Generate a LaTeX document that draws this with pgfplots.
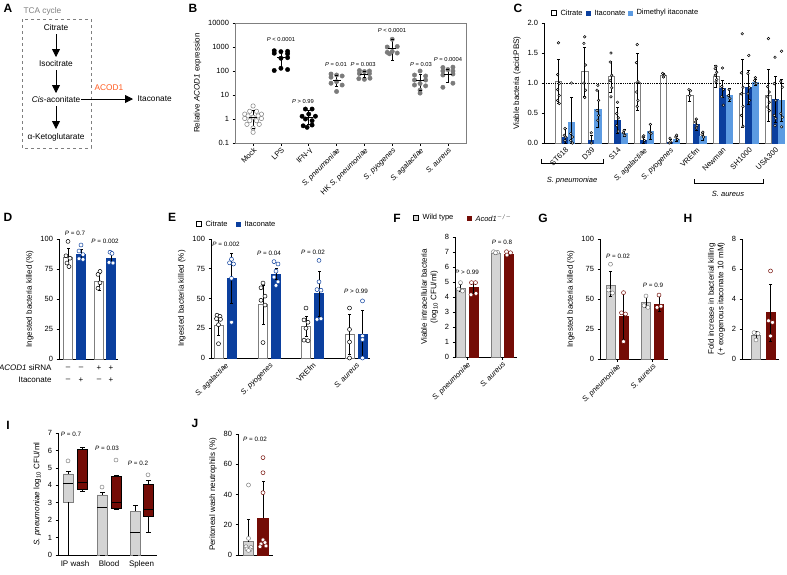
\documentclass[border=0pt]{standalone}
\usepackage{fontspec}
\setmainfont{Liberation Sans}
\usepackage{pgfplots}
\pgfplotsset{compat=1.18}
\usetikzlibrary{arrows.meta}

\definecolor{itab}{HTML}{0B3F9E}
\definecolor{dmib}{HTML}{5C9BE2}
\definecolor{kored}{HTML}{740C06}
\definecolor{wtgray}{HTML}{D4D4D4}
\definecolor{ptgray}{HTML}{7B7B7B}
\definecolor{edgegray}{HTML}{7F7F7F}
\definecolor{acodorange}{HTML}{FF5A1F}

% one bar: x, value, fill, edge colour, width
\newcommand{\onebar}[5]{\addplot[ybar, bar shift=0pt, bar width=#5, fill=#3, draw=#4, line width=0.6pt] coordinates {(#1,#2)};}
% error bar from #2 to #3 at x = #1, capped at both ends
\newcommand{\ebar}[3]{\addplot[black, line width=0.6pt, mark=-, mark size=1.5pt] coordinates {(#1,#2) (#1,#3)};}
% error bar above the mean only
\newcommand{\uebar}[3]{\addplot[black, line width=0.6pt, mark=-, mark size=1.5pt, mark indices={2}] coordinates {(#1,#2) (#1,#3)};}
% replicate points: size, edge colour, coordinates
\newcommand{\reps}[3]{\addplot[only marks, mark=*, mark size=#1, mark options={fill=white, draw=#2, line width=0.5pt}] coordinates {#3};}
% mean line for scatter panels
\newcommand{\mline}[2]{\addplot[only marks, mark=-, mark size=4pt, mark options={line width=0.9pt}] coordinates {(#1,#2)};}
% box and whiskers: left, centre, right, low whisker, Q1, median, Q3, high whisker, box style
\newcommand{\bx}[9]{%
  \addplot[#9, line width=0.6pt] coordinates {(#1,#5) (#3,#5) (#3,#7) (#1,#7) (#1,#5)};
  \addplot[black, line width=0.6pt] coordinates {(#1,#6) (#3,#6)};
  \addplot[black, line width=0.6pt, mark=-, mark size=2.5pt, mark indices={2}] coordinates {(#2,#7) (#2,#8)};
  \addplot[black, line width=0.6pt, mark=-, mark size=2.5pt, mark indices={2}] coordinates {(#2,#5) (#2,#4)};}
\newcommand{\Pv}[1]{\textit{P} #1}

\pgfplotsset{
  panel/.style={
    scale only axis, clip=false, enlargelimits=false, anchor=south west,
    axis x line*=bottom, axis y line*=left,
    axis line style={-, line width=0.6pt},
    tick align=outside, major tick length=2.5pt,
    tick style={black, line width=0.6pt},
    ymin=0,
    tick label style={font=\fontsize{7.5}{9}\selectfont},
    ylabel style={font=\fontsize{8}{9.5}\selectfont},
    /pgf/number format/assume math mode=true,
  },
  rotlabels/.style={xticklabel style={rotate=45, anchor=north east, inner sep=1pt}},
}

\begin{document}
\begin{tikzpicture}[font=\fontsize{8}{9.5}\selectfont]
\path[use as bounding box] (0,0) rectangle (787pt,-574pt);

% panel letters
\foreach \l/\x/\y in {A/8/8, B/193/8, C/518/8, D/8/217, E/172/217, F/397/218, G/543/218, H/688/218, I/8/425, J/195/423}
  \node[font=\fontsize{12}{12}\selectfont\bfseries] at (\x pt,-\y pt) {\l};

% ---------------- A: pathway ----------------
\begin{scope}[font=\fontsize{8.3}{10}\selectfont]
\draw[edgegray, dashed, line width=0.6pt] (22pt,-19pt) rectangle (91pt,-148pt);
\node[edgegray, anchor=west] at (20pt,-11pt) {TCA cycle};
\node at (56pt,-28pt) {Citrate};
\node at (56pt,-64pt) {Isocitrate};
\node at (56pt,-100pt) {\textit{Cis}-aconitate};
\node at (56pt,-137pt) {α-Ketoglutarate};
\draw[line width=0.8pt, -{Triangle[length=8pt,width=8pt]}] (56pt,-34pt) -- (56pt,-57pt);
\draw[line width=0.8pt, -{Triangle[length=8pt,width=8pt]}] (56pt,-70pt) -- (56pt,-93pt);
\draw[line width=0.8pt, -{Triangle[length=8pt,width=8pt]}] (56pt,-106pt) -- (56pt,-129pt);
\draw[line width=0.8pt, -{Triangle[length=8pt,width=8pt]}] (81pt,-99pt) -- (133pt,-99pt);
\node[acodorange] at (109pt,-88pt) {ACOD1};
\node[anchor=west] at (134pt,-99pt) {Itaconate};
\end{scope}

% ---------------- B: ACOD1 expression ----------------
\begin{axis}[scale only axis, clip=false, anchor=south west, at={(235pt,-143pt)},
  width=231pt, height=120pt, ymode=log, ymin=0.1, ymax=10000,
  xmin=-0.65, xmax=7.65, xtick={0,...,7},
  xticklabels={Mock,LPS,IFN-γ,\textit{S. pneumoniae},HK \textit{S. pneumoniae},\textit{S. pyogenes},\textit{S. agalactiae},\textit{S. aureus}},
  rotlabels,
  ytick={0.1,1,10,100,1000,10000}, yticklabels={0.1,1,10,100,1000,10000},
  yminorticks=false, tick pos=left, tick align=outside, major tick length=2.5pt,
  tick style={black, line width=0.6pt}, axis line style={line width=0.6pt, edgegray},
  tick label style={font=\fontsize{7.5}{9}\selectfont},
  ylabel={Relative \textit{ACOD1} expression}, ylabel style={font=\fontsize{8}{9.5}\selectfont}]
\reps{2.2pt}{edgegray}{(0,3.5) (-0.12,2.1) (0.12,2.1) (-0.3,1.6) (0.3,1.6) (-0.18,1.35) (0.18,1.35) (0,1.2) (-0.3,1.05) (0.3,1.05) (-0.12,0.85) (0.12,0.85) (-0.22,0.6) (0.22,0.6) (0,0.42) (0,0.28)}
\addplot[only marks, mark=*, mark size=2.2pt, black] coordinates {(0.76,700) (1,640) (1.24,660) (0.76,550) (1.24,520) (1,340) (1.24,360) (1,130) (0.76,105) (1.24,115)};
\addplot[only marks, mark=*, mark size=2.2pt, black] coordinates {(1.88,2.6) (2.12,2.6) (2,1.6) (1.76,1.3) (2.24,1.3) (1.88,1.0) (2.12,0.85) (1.8,0.52) (2.12,0.56) (1.94,0.45)};
\addplot[only marks, mark=*, mark size=2.2pt, ptgray] coordinates {(2.8,75) (3,68) (2.8,55) (3.2,62) (3,36) (2.8,31) (3.2,26) (3,14)};
\addplot[only marks, mark=*, mark size=2.2pt, ptgray] coordinates {(3.82,105) (4.18,100) (4,95) (3.82,78) (4.18,78) (3.8,48) (4.2,50) (4,45)};
\addplot[only marks, mark=*, mark size=2.2pt, ptgray] coordinates {(5,2100) (4.82,1000) (5.18,1050) (4.82,600) (5,650) (5.18,560) (4.9,520)};
\addplot[only marks, mark=*, mark size=2.2pt, ptgray] coordinates {(6,100) (5.8,68) (6.2,62) (5.8,42) (6.2,42) (6,30) (5.8,26) (6.2,24) (6,16) (6,12)};
\addplot[only marks, mark=*, mark size=2.2pt, ptgray] coordinates {(6.82,140) (7.18,145) (7,115) (6.82,100) (7.18,100) (7.18,75) (6.82,68) (7.18,31) (6.82,21)};
\ebar{0}{0.42}{2.3}\mline{0}{1.2}
\ebar{1}{117}{750}\mline{1}{370}
\ebar{2}{0.6}{2.2}\mline{2}{1.2}
\ebar{3}{22}{65}\mline{3}{42}
\ebar{4}{55}{95}\mline{4}{75}
\ebar{5}{280}{2000}\mline{5}{900}
\ebar{6}{15}{70}\mline{6}{40}
\ebar{7}{35}{115}\mline{7}{75}
\end{axis}
\begin{scope}[font=\fontsize{5.8}{7}\selectfont]
\node at (281pt,-39pt) {\Pv{< 0.0001}};
\node at (303pt,-101pt) {\Pv{> 0.99}};
\node at (336pt,-64pt) {\Pv{= 0.01}};
\node at (363pt,-64pt) {\Pv{= 0.003}};
\node at (392pt,-30pt) {\Pv{< 0.0001}};
\node at (421pt,-64pt) {\Pv{= 0.03}};
\node at (448pt,-59pt) {\Pv{= 0.0004}};
\end{scope}

% ---------------- C: viable bacteria ----------------
\begin{axis}[panel, at={(544pt,-143pt)}, width=241pt, height=120pt,
  xmin=-0.8, xmax=8.38, ymax=2, ytick={0,0.5,1,1.5,2}, yticklabels={0.0,0.5,1.0,1.5,2.0},
  xtick={0,...,8}, xticklabels={ST618,D39,S14,\textit{S. agalactiae},\textit{S. pyogenes},VREfm,Newman,SH1000,USA300},
  rotlabels, xtick style={draw=none},
  ylabel={Viable bacteria (acid:PBS)}]
% citrate
\onebar{-0.25}{1.03}{white}{edgegray}{6.3pt}
\onebar{0.75}{1.19}{white}{edgegray}{6.3pt}
\onebar{1.75}{1.11}{white}{edgegray}{6.3pt}
\onebar{2.75}{1.02}{white}{edgegray}{6.3pt}
\onebar{3.75}{1.13}{white}{edgegray}{6.3pt}
\onebar{4.75}{0.80}{white}{edgegray}{6.3pt}
\onebar{5.75}{1.11}{white}{edgegray}{6.3pt}
\onebar{6.75}{0.83}{white}{edgegray}{6.3pt}
\onebar{7.75}{0.80}{white}{edgegray}{6.3pt}
% itaconate
\onebar{0}{0.10}{itab}{itab}{6.3pt}
\onebar{1}{0.05}{itab}{itab}{6.3pt}
\onebar{2}{0.38}{itab}{itab}{6.3pt}
\onebar{3}{0.04}{itab}{itab}{6.3pt}
\onebar{4}{0.02}{itab}{itab}{6.3pt}
\onebar{5}{0.31}{itab}{itab}{6.3pt}
\onebar{6}{0.91}{itab}{itab}{6.3pt}
\onebar{7}{0.93}{itab}{itab}{6.3pt}
\onebar{8}{0.73}{itab}{itab}{6.3pt}
% dimethyl itaconate
\onebar{0.25}{0.34}{dmib}{dmib}{6.3pt}
\onebar{1.25}{0.57}{dmib}{dmib}{6.3pt}
\onebar{2.25}{0.17}{dmib}{dmib}{6.3pt}
\onebar{3.25}{0.19}{dmib}{dmib}{6.3pt}
\onebar{4.25}{0.07}{dmib}{dmib}{6.3pt}
\onebar{5.25}{0.11}{dmib}{dmib}{6.3pt}
\onebar{6.25}{0.80}{dmib}{dmib}{6.3pt}
\onebar{7.25}{1.02}{dmib}{dmib}{6.3pt}
\onebar{8.25}{0.71}{dmib}{dmib}{6.3pt}
% reference level
\addplot[black, densely dotted, line width=0.8pt] coordinates {(-0.8,1) (8.38,1)};
% error bars
\ebar{-0.25}{0.67}{1.39}\ebar{0}{0}{0.24}\ebar{0.25}{0}{0.76}
\ebar{0.75}{0.78}{1.6}\ebar{1}{0}{0.13}\ebar{1.25}{0.26}{0.88}
\ebar{1.75}{0.85}{1.37}\ebar{2}{0.16}{0.6}\ebar{2.25}{0.11}{0.23}
\ebar{2.75}{0.55}{1.49}\ebar{3}{0}{0.1}\ebar{3.25}{0.07}{0.31}
\ebar{3.75}{1.1}{1.16}\ebar{4}{0}{0.06}\ebar{4.25}{0.03}{0.11}
\ebar{4.75}{0.7}{0.9}\ebar{5}{0.22}{0.4}\ebar{5.25}{0.05}{0.18}
\ebar{5.75}{0.93}{1.29}\ebar{6}{0.77}{1.05}\ebar{6.25}{0.69}{0.91}
\ebar{6.75}{0.26}{1.4}\ebar{7}{0.65}{1.21}\ebar{7.25}{0.97}{1.07}
\ebar{7.75}{0.37}{1.23}\ebar{8}{0.35}{1.11}\ebar{8.25}{0.36}{1.06}
% replicates
\reps{1.3pt}{black}{(-0.25,1.67) (-0.28,1.14) (-0.22,0.99) (-0.28,0.89) (-0.22,0.79) (-0.28,0.71) (-0.22,0.66)
  (0.75,1.77) (0.72,1.66) (0.78,1.3) (0.72,1.0) (0.78,0.88) (0.75,0.76)
  (1.75,1.5) (1.72,1.35) (1.78,1.13) (1.72,1.04) (1.78,0.92) (1.75,0.77)
  (2.75,1.64) (2.72,1.34) (2.78,1.02) (2.72,0.85) (2.78,0.71) (2.75,0.61)
  (3.72,1.16) (3.78,1.13) (3.75,1.1)
  (4.72,0.89) (4.78,0.87) (4.75,0.79)
  (5.75,1.28) (5.72,1.24) (5.78,1.18) (5.72,1.13) (5.78,1.06) (5.75,1.02)
  (6.75,1.82) (6.72,1.17) (6.78,0.93) (6.72,0.82) (6.78,0.61) (6.72,0.46) (6.78,0.28)
  (7.75,1.74) (7.72,0.94) (7.78,0.85) (7.72,0.77) (7.78,0.68) (7.72,0.6) (7.78,0.54)}
\reps{1.3pt}{black}{(0,0.24) (-0.03,0.13) (0.03,0.1) (0,0.04)
  (1,0.17) (1,0.0)
  (2,0.68) (1.97,0.49) (2.03,0.42) (1.97,0.29) (2.03,0.2)
  (3,0.12) (2.97,0.1) (3.03,0.04)
  (4,0.08) (4.03,0.02) (3.97,0.0)
  (5,0.4) (4.97,0.35) (5.03,0.29) (5,0.25)
  (6,1.25) (5.97,0.94) (6.03,0.89) (5.97,0.77) (6.03,0.63)
  (7,1.46) (6.97,1.16) (7.03,0.92) (6.97,0.82) (7.03,0.71)
  (8,1.43) (7.97,0.99) (8.03,0.71) (7.97,0.46) (8.03,0.41) (8,0.29)}
\reps{1.3pt}{black}{(0.25,1.0) (0.22,0.16) (0.28,0.1) (0.22,0.04) (0.28,0.0)
  (1.25,0.96) (1.22,0.88) (1.28,0.71) (1.22,0.54) (1.28,0.46) (1.25,0.38)
  (2.25,0.21) (2.22,0.17) (2.28,0.13)
  (3.25,0.31) (3.22,0.18) (3.28,0.16)
  (4.25,0.13) (4.22,0.1) (4.28,0.06)
  (5.25,0.18) (5.22,0.14) (5.28,0.1)
  (6.25,0.89) (6.22,0.79) (6.28,0.74)
  (7.25,1.09) (7.22,1.04) (7.28,0.99)
  (8.25,1.53) (8.22,1.03) (8.28,0.93) (8.22,0.49) (8.28,0.43) (8.25,0.27)}
\end{axis}
% C legend and species brackets
\begin{scope}[font=\fontsize{7.5}{9}\selectfont]
\draw[black, line width=0.5pt, fill=white] (551.5pt,-10.5pt) rectangle (556.5pt,-15.5pt);
\node[anchor=west] at (557pt,-13pt) {Citrate};
\fill[itab] (585.5pt,-10.5pt) rectangle (590.5pt,-15.5pt);
\node[anchor=west] at (591pt,-13pt) {Itaconate};
\fill[dmib] (627.5pt,-10.5pt) rectangle (632.5pt,-15.5pt);
\node[anchor=west] at (633pt,-13pt) {Dimethyl itaconate};
\draw[line width=0.6pt] (541pt,-159pt) -- (541pt,-163pt) -- (603pt,-163pt) -- (603pt,-159pt);
\node at (572pt,-181pt) {\textit{S. pneumoniae}};
\draw[line width=0.6pt] (694pt,-179pt) -- (694pt,-183pt) -- (763pt,-183pt) -- (763pt,-179pt);
\node at (728pt,-194pt) {\textit{S. aureus}};
\end{scope}

% ---------------- D: siRNA knockdown ----------------
\begin{axis}[panel, at={(59pt,-359pt)}, width=59pt, height=120pt,
  xmin=0, xmax=59, ymax=100, ytick={0,25,50,75,100}, xtick=\empty,
  ylabel={Ingested bacteria killed (\%)}]
\onebar{9}{84.5}{white}{edgegray}{8.5pt}
\onebar{22}{87}{itab}{itab}{8.5pt}
\onebar{40}{64.5}{white}{edgegray}{8.5pt}
\onebar{52}{84}{itab}{itab}{8.5pt}
\ebar{9}{77}{92}\ebar{22}{83}{91.5}\ebar{40}{57}{71.5}\ebar{52}{79.5}{88.5}
\reps{2pt}{black}{(9,98) (7,86) (11,84) (8,80) (10,77)}
\reps{2pt}{itab}{(22,95) (20,90) (24,87) (20,83.5) (24,83)}
\reps{2pt}{black}{(41,73) (39,70.5) (41,63.5) (39,59)}
\reps{2pt}{itab}{(51,89) (53,88) (50,80.5) (54,80)}
\end{axis}
\begin{scope}[font=\fontsize{8}{9.5}\selectfont]
\node[anchor=east] at (55pt,-368pt) {\textit{ACOD1} siRNA};
\node[anchor=east] at (55pt,-380pt) {Itaconate};
\node at (68pt,-368pt) {–}; \node at (81pt,-368pt) {–}; \node at (99pt,-368pt) {+}; \node at (111pt,-368pt) {+};
\node at (68pt,-380pt) {–}; \node at (81pt,-380pt) {+}; \node at (99pt,-380pt) {–}; \node at (111pt,-380pt) {+};
\end{scope}
\begin{scope}[font=\fontsize{6.3}{7.5}\selectfont]
\node at (75pt,-233pt) {\Pv{= 0.7}};
\node at (105pt,-241pt) {\Pv{= 0.002}};
\end{scope}

% ---------------- E: bacterial species ----------------
\begin{axis}[panel, at={(211pt,-358pt)}, width=159pt, height=119pt,
  xmin=0, xmax=159, ymax=100, ytick={0,25,50,75,100},
  xtick={14,58.5,101.5,145}, xticklabels={\textit{S. agalactiae},\textit{S. pyogenes},VREfm,\textit{S. aureus}},
  rotlabels, xtick style={draw=none},
  ylabel={Ingested bacteria killed (\%)}]
\onebar{7.5}{27.7}{white}{edgegray}{9pt}
\onebar{20.5}{67}{itab}{itab}{9pt}
\onebar{52}{45}{white}{edgegray}{9pt}
\onebar{65}{70.6}{itab}{itab}{9pt}
\onebar{95}{26.5}{white}{edgegray}{9pt}
\onebar{108}{54}{itab}{itab}{9pt}
\onebar{138.5}{20}{white}{edgegray}{9pt}
\onebar{151.5}{20}{itab}{itab}{9pt}
\ebar{7.5}{19}{36.5}\ebar{20.5}{46}{88}
\ebar{52}{28}{61}\ebar{65}{66}{75.5}
\ebar{95}{18}{35}\ebar{108}{35}{73}
\ebar{138.5}{3}{37}\ebar{151.5}{0}{40}
\reps{2pt}{black}{(6,36) (9,35) (5.5,33) (9.5,32.5) (7.5,28) (7.5,12)
  (52,63) (50,59) (54,52) (50,48.5) (54,44.5) (52,13)
  (95,42) (93,32) (97,30) (95,25) (93,15) (97,14.5)
  (138.5,42) (138.5,24) (138.5,13.5) (138.5,0)}
\reps{2pt}{itab}{(20.5,83) (18.5,80) (22.5,79) (20.5,67) (20.5,30)
  (63,81) (67,79) (65,73) (63,68) (67,64) (65,61)
  (108,82) (108,64) (106,57.5) (110,57) (106,32.5) (110,33)
  (151.5,48) (151.5,18.5) (151.5,15.5) (151.5,0)}
\end{axis}
\begin{scope}[font=\fontsize{7.5}{9}\selectfont]
\draw[black, line width=0.5pt, fill=white] (196.5pt,-221.5pt) rectangle (201.5pt,-226.5pt);
\node[anchor=west] at (202pt,-224pt) {Citrate};
\fill[itab] (235.5pt,-221.5pt) rectangle (240.5pt,-226.5pt);
\node[anchor=west] at (241pt,-224pt) {Itaconate};
\end{scope}
\begin{scope}[font=\fontsize{6.3}{7.5}\selectfont]
\node at (226pt,-244pt) {\Pv{= 0.002}};
\node at (269pt,-253pt) {\Pv{= 0.04}};
\node at (313pt,-252pt) {\Pv{= 0.02}};
\node at (356pt,-291pt) {\Pv{> 0.99}};
\end{scope}

% ---------------- F: intracellular bacteria ----------------
\begin{axis}[panel, at={(455pt,-357pt)}, width=62pt, height=120pt,
  xmin=0, xmax=62, ymax=8, ytick={0,...,8},
  xtick={12,47}, xticklabels={\textit{S. pneumoniae},\textit{S. aureus}}, rotlabels,
  ylabel={Viable intracellular bacteria\\(log\textsubscript{10} CFU/ml)}, ylabel style={align=center}]
\onebar{5.5}{4.58}{wtgray}{edgegray}{9pt}
\onebar{18.5}{4.65}{kored}{kored}{9pt}
\onebar{40.5}{6.91}{wtgray}{edgegray}{9pt}
\onebar{53.5}{6.88}{kored}{kored}{9pt}
\ebar{5.5}{4.4}{4.84}\ebar{18.5}{4.25}{4.95}\ebar{40.5}{6.88}{6.97}\ebar{53.5}{6.8}{6.98}
\reps{2pt}{edgegray}{(5.5,4.96) (3.5,4.53) (7.5,4.4) (38.5,7.02) (42.5,6.98) (40.5,6.95)}
\reps{2pt}{kored}{(16.5,4.96) (20.5,4.96) (16,4.15) (21,4.24) (51.5,7.02) (55.5,6.95) (52,6.8)}
\end{axis}
\begin{scope}[font=\fontsize{7.5}{9}\selectfont]
\draw[black, line width=0.5pt, fill=wtgray] (413.5pt,-215.5pt) rectangle (418.5pt,-220.5pt);
\node[anchor=west] at (419pt,-218pt) {Wild type};
\fill[kored] (466.5pt,-215.5pt) rectangle (471.5pt,-220.5pt);
\node[anchor=west] at (472pt,-218pt) {\textit{Acod1}\textsuperscript{$-/-$}};
\end{scope}
\begin{scope}[font=\fontsize{6.3}{7.5}\selectfont]
\node at (467pt,-272pt) {\Pv{> 0.99}};
\node at (502pt,-242pt) {\Pv{= 0.8}};
\end{scope}

% ---------------- G: killing in knockout cells ----------------
\begin{axis}[panel, at={(600pt,-359pt)}, width=68pt, height=120pt,
  xmin=0, xmax=68, ymax=100, ytick={0,25,50,75,100},
  xtick={17,52.5}, xticklabels={\textit{S. pneumoniae},\textit{S. aureus}}, rotlabels,
  ylabel={Ingested bacteria killed (\%)}]
\onebar{10.5}{61.5}{wtgray}{edgegray}{9pt}
\onebar{23.5}{36}{kored}{kored}{9pt}
\onebar{46}{47.5}{wtgray}{edgegray}{9pt}
\onebar{59}{46}{kored}{kored}{9pt}
\ebar{10.5}{52}{73}\ebar{23.5}{16.5}{55}\ebar{46}{43}{52.5}\ebar{59}{40}{53}
\reps{2pt}{edgegray}{(10.5,79) (8.5,57.5) (12.5,55) (46,52.5) (44,44.5) (48,43)}
\reps{2pt}{kored}{(23.5,55.3) (21.5,38.5) (25.5,37.5) (23.5,14.5) (59,53.3) (57,43) (61,44)}
\end{axis}
\begin{scope}[font=\fontsize{6.3}{7.5}\selectfont]
\node at (618pt,-256pt) {\Pv{= 0.02}};
\node at (653pt,-285pt) {\Pv{= 0.9}};
\end{scope}

% ---------------- H: fold increase ----------------
\begin{axis}[panel, at={(742pt,-359pt)}, width=37pt, height=120pt,
  xmin=0, xmax=37, ymax=8, ytick={0,2,4,6,8}, xtick=\empty,
  ylabel={Fold increase in bacterial killing\\(+ exogenous itaconate 10 mM)}, ylabel style={align=center}]
\onebar{14}{1.6}{wtgray}{edgegray}{9pt}
\onebar{28.5}{3.1}{kored}{kored}{9pt}
\ebar{14}{1.4}{1.85}\ebar{28.5}{1.2}{5.0}
\reps{2pt}{edgegray}{(12,1.76) (16,1.7) (14,1.27)}
\reps{2pt}{kored}{(28.5,5.87) (26.5,2.55) (30.5,2.44) (28.5,1.53)}
\end{axis}

% ---------------- I: in vivo bacterial load ----------------
\begin{axis}[panel, at={(58pt,-555pt)}, width=99pt, height=122pt,
  xmin=0, xmax=99, ymax=7, ytick={0,...,7},
  xtick={17,51,83.5}, xticklabels={IP wash,Blood,Spleen}, xtick style={draw=none},
  xticklabel style={font=\fontsize{8}{9.5}\selectfont},
  ylabel={\textit{S. pneumoniae} log\textsubscript{10} CFU/ml}]
\bx{5}{10}{15}{0}{3.05}{4.1}{4.65}{4.8}{fill=wtgray, draw=edgegray}
\bx{19}{24}{29}{3.65}{3.75}{4.15}{6.05}{6.2}{fill=kored, draw=black}
\bx{39}{44}{49}{0}{0}{2.75}{3.45}{3.6}{fill=wtgray, draw=edgegray}
\bx{53}{58}{63}{2.6}{2.7}{3.0}{4.5}{4.55}{fill=kored, draw=black}
\bx{72}{77}{82}{0}{0}{1.3}{2.5}{2.85}{fill=wtgray, draw=edgegray}
\bx{85}{90}{95}{1.3}{2.2}{2.65}{4.05}{4.3}{fill=kored, draw=black}
\addplot[only marks, mark=o, mark size=2pt, edgegray, line width=0.5pt] coordinates {(10,5.4) (44,3.9) (58,5.45) (90,4.6)};
\end{axis}
\begin{scope}[font=\fontsize{6.3}{7.5}\selectfont]
\node at (71pt,-434pt) {\Pv{= 0.7}};
\node at (107pt,-448pt) {\Pv{= 0.03}};
\node at (138pt,-463pt) {\Pv{= 0.2}};
\end{scope}

% ---------------- J: peritoneal neutrophils ----------------
\begin{axis}[panel, at={(238pt,-555pt)}, width=35pt, height=121pt,
  xmin=0, xmax=35, ymax=80, ytick={0,20,...,80}, xtick=\empty,
  ylabel={Peritoneal wash neutrophils (\%)}]
\onebar{10.5}{8.8}{wtgray}{edgegray}{10.5pt}
\onebar{25}{24.2}{kored}{kored}{10.5pt}
\uebar{10.5}{8.8}{23.6}\uebar{25}{24.2}{49}
\reps{2pt}{edgegray}{(10.5,46.3) (10.5,11) (8,5.5) (13,5) (9,4) (12,3.5) (10.5,3)}
\reps{2pt}{kored}{(25,64.4) (25,54.4) (25,41.2) (25,10) (27,8.2) (23,7.3) (28,6) (22,5.5)}
\end{axis}
\node[font=\fontsize{6.3}{7.5}\selectfont] at (255pt,-439pt) {\Pv{= 0.02}};

\end{tikzpicture}
\end{document}
